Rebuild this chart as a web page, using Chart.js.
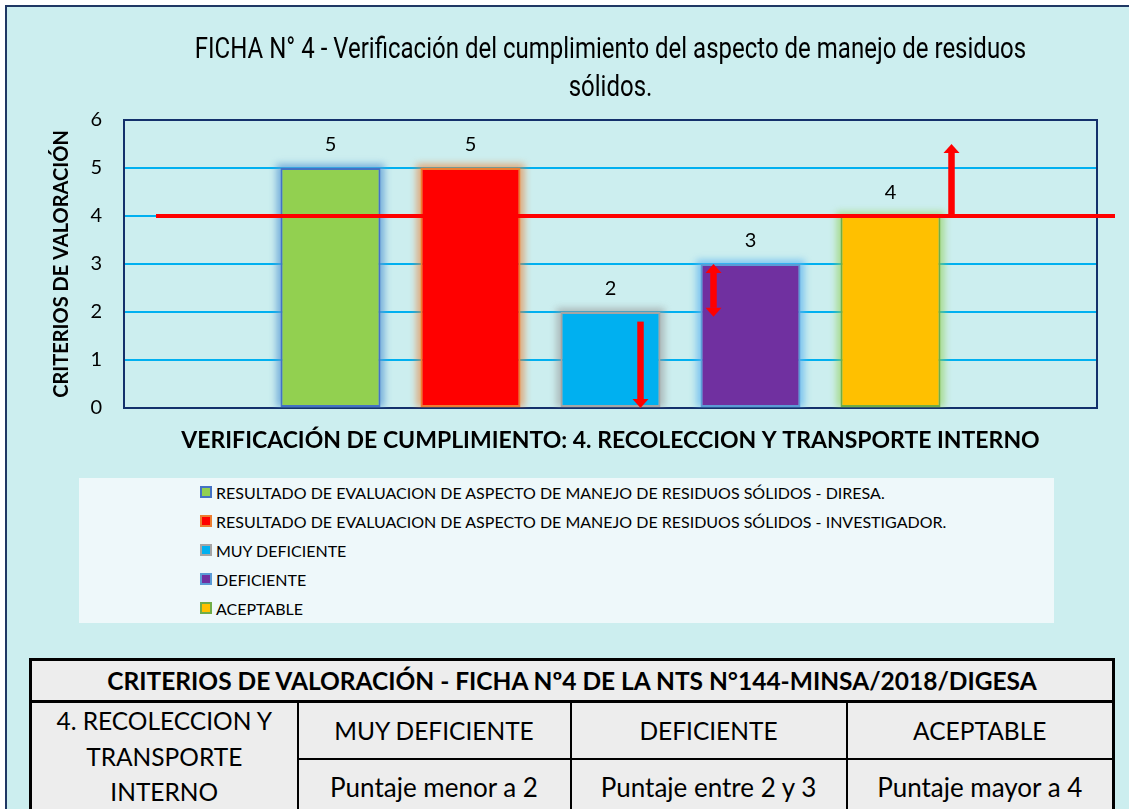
<!DOCTYPE html>
<html>
<head>
<meta charset="utf-8">
<script src="https://cdn.jsdelivr.net/npm/chart.js@4.4.1/dist/chart.umd.min.js"></script>
<style>
html,body{margin:0;padding:0;background:#ffffff;width:1129px;height:809px;overflow:hidden;}
#frame{position:absolute;left:5px;top:5px;width:1160px;height:840px;background:#CCEEEF;border:2px solid #1F3864;box-sizing:border-box;}
#chartWrap{position:absolute;left:0;top:0;width:1129px;height:470px;z-index:2;}
#legend{position:absolute;left:79px;top:478px;width:975px;height:145px;background:#EEF8FA;font-family:Lato,'Open Sans',sans-serif;font-size:16px;color:#000;z-index:2;}
.li{position:absolute;left:121px;height:20px;display:flex;align-items:center;white-space:nowrap;}
.sw{width:12px;height:12px;box-sizing:border-box;border:2px solid;margin-right:4px;}
#crit{position:absolute;left:29px;top:658px;width:1083px;border-collapse:collapse;background:#EDEDED;font-family:Lato,'Open Sans',sans-serif;font-size:24.5px;color:#000;table-layout:fixed;z-index:2;border:3px solid #000;}
#crit td{border:2px solid #000;text-align:center;padding:0;line-height:35.5px;}
#crit td.rule{font-size:26px;}
#crit td.rowname{padding-bottom:6px;}
#crit th{border:3px solid #000;text-align:center;padding:0;font-weight:bold;font-size:24.5px;height:39px;}
</style>
</head>
<body>
<div id="frame"></div>
<div id="chartWrap"><canvas id="c"></canvas></div>
<div id="legend"></div>
<table id="crit">
  <colgroup><col style="width:267px"><col style="width:273px"><col style="width:276px"><col style="width:267px"></colgroup>
  <tr><th colspan="4" id="critTitle"></th></tr>
  <tr style="height:56px"><td rowspan="2" class="rowname" id="critRow"></td><td id="h0"></td><td id="h1"></td><td id="h2"></td></tr>
  <tr style="height:56px"><td class="rule" id="d0"></td><td class="rule" id="d1"></td><td class="rule" id="d2"></td></tr>
</table>
<script>
// ---------- DATA ----------
const titleLines = ['FICHA N° 4 - Verificación del cumplimiento del aspecto de manejo de residuos', 'sólidos.'];
const categories = ['4. RECOLECCION Y TRANSPORTE INTERNO'];
const xAxisTitle = 'VERIFICACIÓN DE CUMPLIMIENTO: ' + categories[0];
const yAxisTitle = 'CRITERIOS DE VALORACIÓN';
const seriesNames = [
  'RESULTADO DE EVALUACION DE ASPECTO DE MANEJO DE RESIDUOS SÓLIDOS - DIRESA.',
  'RESULTADO DE EVALUACION DE ASPECTO DE MANEJO DE RESIDUOS SÓLIDOS - INVESTIGADOR.',
  'MUY DEFICIENTE',
  'DEFICIENTE',
  'ACEPTABLE'
];
const seriesValues = [5, 5, 2, 3, 4];
const yTicks = [0, 1, 2, 3, 4, 5, 6];
const thresholdValue = [4];
// arrow value ranges per series (from -> to), null where none
const arrowFrom = [null, null, 1.8, 3, 4];
const arrowTo   = [null, null, 0, 1.9, 5.5];
const arrowBoth = [false, false, false, true, false];
const tableTitle = 'CRITERIOS DE VALORACIÓN - FICHA Nº4 DE LA NTS N°144-MINSA/2018/DIGESA';
const levelNames = ['MUY DEFICIENTE', 'DEFICIENTE', 'ACEPTABLE'];
const levelRules = ['Puntaje menor a 2', 'Puntaje entre 2 y 3', 'Puntaje mayor a 4'];

// ---------- STYLES ----------
const fillColors   = ['#92D050', '#FF0000', '#00B0F0', '#7030A0', '#FFC000'];
const borderColors = ['#4472C4', '#ED7D31', '#A5A5A5', '#5B9BD5', '#70AD47'];
const glowColors   = ['rgba(91,155,213,0.75)', 'rgba(237,125,49,0.6)', 'rgba(150,150,150,0.6)', 'rgba(91,180,240,0.7)', 'rgba(146,208,80,0.6)'];
const arrowXFrac   = [0.5, 0.5, 0.8, 0.13, 1.11];

const glowPlugin = {
  id: 'glow',
  beforeDatasetDraw(chart, args) {
    const ctx = chart.ctx;
    const a = chart.chartArea;
    ctx.save();
    ctx.beginPath();
    ctx.rect(a.left, a.top - 20, a.right - a.left, a.bottom - a.top + 20);
    ctx.clip();
    ctx.filter = 'blur(3.5px)';
    ctx.fillStyle = glowColors[args.index];
    chart.getDatasetMeta(args.index).data.forEach(el => {
      const h = el.base - el.y;
      ctx.fillRect(el.x - el.width / 2 - 4, el.y - 4, el.width + 8, h + 4);
    });
    ctx.restore();
  }
};

const frameGrid = {
  id: 'frameGrid',
  beforeDatasetsDraw(chart) {
    const {ctx, chartArea: a} = chart;
    ctx.save();
    ctx.strokeStyle = '#13306B';
    ctx.lineWidth = 2;
    ctx.strokeRect(a.left, a.top, a.right - a.left, a.bottom - a.top);
    ctx.restore();
  }
};

const condensedTitle = {
  id: 'condensedTitle',
  afterDraw(chart) {
    const {ctx, chartArea: a} = chart;
    const cx = (a.left + a.right) / 2;
    ctx.save();
    ctx.fillStyle = '#000';
    ctx.font = '30px Roboto, "Noto Sans", sans-serif';
    ctx.textAlign = 'center';
    ctx.textBaseline = 'middle';
    titleLines.forEach((line, i) => {
      ctx.save();
      ctx.translate(cx, 50 + i * 38);
      ctx.scale(0.8, 1);
      ctx.fillText(line, 0, 0);
      ctx.restore();
    });
    ctx.restore();
  }
};

function drawArrow(ctx, x, yStart, yTip, both) {
  const shaft = 6.5, headW = 16, headL = 9;
  ctx.fillStyle = '#FF0000';
  const dir = yTip > yStart ? 1 : -1;
  const s0 = both ? yStart + dir * headL : yStart;
  const s1 = yTip - dir * headL;
  ctx.fillRect(x - shaft / 2, Math.min(s0, s1), shaft, Math.abs(s1 - s0));
  const head = (tip, d) => {
    ctx.beginPath();
    ctx.moveTo(x, tip);
    ctx.lineTo(x - headW / 2, tip - d * headL);
    ctx.lineTo(x + headW / 2, tip - d * headL);
    ctx.closePath();
    ctx.fill();
  };
  head(yTip, dir);
  if (both) head(yStart, -dir);
}

const overlay = {
  id: 'overlay',
  afterDatasetsDraw(chart) {
    const {ctx, chartArea: a} = chart;
    const ys = chart.scales.y;
    ctx.save();
    // value labels
    ctx.fillStyle = '#000';
    ctx.font = '20px Lato, "Open Sans", sans-serif';
    ctx.textAlign = 'center';
    ctx.textBaseline = 'middle';
    chart.data.datasets.forEach((ds, i) => {
      const el = chart.getDatasetMeta(i).data[0];
      ctx.fillText(String(ds.data[0]), el.x, el.y - 23);
    });
    // threshold line
    const ty = ys.getPixelForValue(thresholdValue[0]);
    ctx.strokeStyle = '#FF0000';
    ctx.lineWidth = 4;
    ctx.beginPath();
    ctx.moveTo(a.left + 32, ty);
    ctx.lineTo(a.right + 18, ty);
    ctx.stroke();
    // arrows
    chart.data.datasets.forEach((ds, i) => {
      if (arrowFrom[i] === null) return;
      const el = chart.getDatasetMeta(i).data[0];
      const x = el.x - el.width / 2 + el.width * arrowXFrac[i];
      drawArrow(ctx, x, ys.getPixelForValue(arrowFrom[i]), ys.getPixelForValue(arrowTo[i]), arrowBoth[i]);
    });
    ctx.restore();
  }
};

const chart = new Chart(document.getElementById('c'), {
  type: 'bar',
  data: {
    labels: categories,
    datasets: seriesNames.map((name, i) => ({
      label: name,
      data: [seriesValues[i]],
      backgroundColor: fillColors[i],
      borderColor: borderColors[i],
      borderWidth: 2,
      borderSkipped: false,
      categoryPercentage: 700 / 973,
      barPercentage: 100 / 140
    }))
  },
  options: {
    responsive: true,
    maintainAspectRatio: false,
    animation: false,
    devicePixelRatio: 1,
    layout: { padding: { left: 50, right: 32, top: 120, bottom: 10 } },
    plugins: {
      legend: { display: false },
      tooltip: { enabled: false },
      title: { display: false }
    },
    scales: {
      x: {
        grid: { display: false, drawTicks: false },
        border: { display: false },
        ticks: { display: false },
        title: {
          display: true,
          text: xAxisTitle,
          color: '#000',
          font: { family: 'Lato, "Open Sans", sans-serif', size: 23, weight: 'bold', lineHeight: 1.2 },
          padding: { top: 0, bottom: 6 }
        },
        afterFit(s) { s.height = 52; }
      },
      y: {
        min: 0, max: 6,
        afterBuildTicks(s) { s.ticks = yTicks.map(v => ({ value: v })); },
        grid: { color: '#00B0F0', lineWidth: 2, drawTicks: false },
        border: { display: false },
        ticks: {
          color: '#000',
          padding: 22,
          font: { family: 'Lato, "Open Sans", sans-serif', size: 20 }
        },
        title: {
          display: true,
          text: yAxisTitle,
          color: '#000',
          font: { family: 'Lato, "Open Sans", sans-serif', size: 20, weight: 'bold', lineHeight: 1.2 },
          padding: { top: 0, bottom: 0 }
        },
        afterFit(s) { s.width = 74; }
      }
    }
  },
  plugins: [frameGrid, glowPlugin, overlay, condensedTitle]
});

// HTML legend from the chart's datasets
const lg = document.getElementById('legend');
chart.data.datasets.forEach((ds, i) => {
  const it = document.createElement('div');
  it.className = 'li';
  it.style.top = (4 + i * 29) + 'px';
  const sw = document.createElement('span');
  sw.className = 'sw';
  sw.style.background = ds.backgroundColor;
  sw.style.borderColor = ds.borderColor;
  const tx = document.createElement('span');
  tx.textContent = ds.label;
  it.appendChild(sw); it.appendChild(tx);
  lg.appendChild(it);
});

// criteria table
document.getElementById('critTitle').textContent = tableTitle;
document.getElementById('critRow').innerHTML = categories[0].replace(' Y ', ' Y<br>').replace('TRANSPORTE ', 'TRANSPORTE<br>');
levelNames.forEach((n, i) => { document.getElementById('h' + i).textContent = n; });
levelRules.forEach((n, i) => { document.getElementById('d' + i).textContent = n; });
</script>
</body>
</html>
